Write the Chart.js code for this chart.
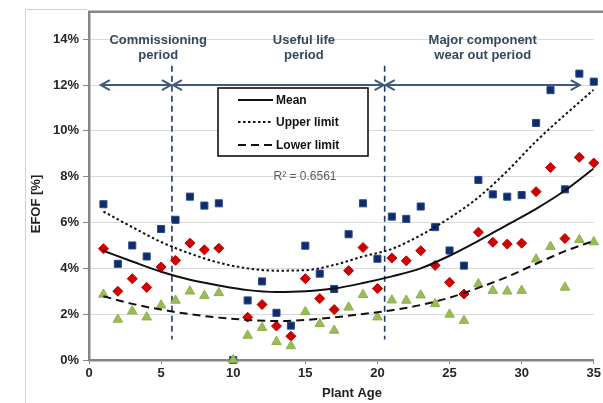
<!DOCTYPE html>
<html>
<head>
<meta charset="utf-8">
<script src="https://cdn.jsdelivr.net/npm/chart.js@4.4.1/dist/chart.umd.min.js"></script>
<style>
html, body { margin: 0; padding: 0; background: #fff; }
</style>
</head>
<body>
<canvas id="chart" width="603" height="403"></canvas>
<script>
// Plant age (years) and the three EFOF point series, in percent
const plantAge = [1, 2, 3, 4, 5, 6, 7, 8, 9, 10, 11, 12, 13, 14, 15, 16, 17, 18,
	19, 20, 21, 22, 23, 24, 25, 26, 27, 28, 29, 30, 31, 32, 33, 34, 35]
const efofSquares = [6.8, 4.2, 5.0, 4.52, 5.72, 6.12, 7.13, 6.74, 6.84, 0, 2.6, 3.43, 2.06, 1.5, 4.99, 3.77, 3.1, 5.49,
	6.84, 4.42, 6.26, 6.16, 6.7, 5.8, 4.78, 4.12, 7.86, 7.23, 7.13, 7.2, 10.35, 11.78, 7.45, 12.5, 12.15]
const efofDiamonds = [4.86, 3.0, 3.55, 3.17, 4.06, 4.35, 5.1, 4.81, 4.88, null, 1.87, 2.42, 1.48, 1.04, 3.55, 2.68, 2.2, 3.9,
	4.91, 3.12, 4.45, 4.33, 4.77, 4.13, 3.39, 2.88, 5.58, 5.14, 5.06, 5.1, 7.35, 8.4, 5.3, 8.85, 8.6]
const efofTriangles = [2.86, 1.77, 2.13, 1.87, 2.39, 2.6, 3.0, 2.81, 2.93, 0, 1.07, 1.41, 0.8, 0.61, 2.1, 1.58, 1.29, 2.3,
	2.85, 1.87, 2.61, 2.6, 2.83, 2.45, 1.99, 1.72, 3.32, 3.03, 3.0, 3.03, 4.4, 4.95, 3.17, 5.25, 5.15]

// fitted curves
const curveAge = [1, 3, 5, 7, 9, 11, 13, 15, 17, 19, 21, 23, 25, 27, 29, 31, 33, 35]
const meanCurve = [4.77, 4.3, 3.85, 3.5, 3.25, 3.05, 2.97, 3.0, 3.12, 3.36, 3.65, 4.0, 4.55, 5.2, 5.9, 6.6, 7.4, 8.36]
const upperCurve = [6.48, 5.8, 5.15, 4.65, 4.25, 4.0, 3.9, 3.92, 4.15, 4.52, 4.85, 5.45, 6.2, 7.1, 8.25, 9.55, 10.7, 11.8]
const lowerCurve = [2.78, 2.45, 2.2, 2.0, 1.85, 1.75, 1.7, 1.75, 1.86, 2.01, 2.17, 2.4, 2.72, 3.15, 3.63, 4.2, 4.75, 5.2]

const yTicks = [0, 2, 4, 6, 8, 10, 12, 14]
const xTicks = [0, 5, 10, 15, 20, 25, 30, 35]

// life periods
const periodBounds = [5.75, 20.5]
const arrowSpans = [[0.75, 5.75], [5.75, 20.5], [20.5, 34.1]]
const periodLabels = [
	{ at: 4.8, lines: ['Commissioning', 'period'] },
	{ at: 14.9, lines: ['Useful life', 'period'] },
	{ at: 27.3, lines: ['Major component', 'wear out period'] },
]
const rSquared = 'R² = 0.6561'

const FONT = "'Liberation Sans', Arial, sans-serif"
const AXIS_GREY = '#868686'

const pts = (xs, ys) => xs.map((x, i) => ({ x: x, y: ys[i] }))

const curveConfig = (label, values, dash) => ({
	type: 'line',
	label: label,
	data: pts(curveAge, values),
	borderColor: '#111',
	borderWidth: 2,
	borderDash: dash,
	pointRadius: 0,
	cubicInterpolationMode: 'monotone',
	fill: false,
	showLine: true,
})

const overlay = {
	id: 'overlay',
	beforeDatasetsDraw(chart) {
		const { ctx, scales: { x, y } } = chart
		ctx.save()
		// period boundaries
		ctx.strokeStyle = '#1F3864'
		ctx.lineWidth = 1.6
		ctx.setLineDash([6, 4])
		periodBounds.forEach(v => {
			const px = x.getPixelForValue(v)
			ctx.beginPath()
			ctx.moveTo(px, y.getPixelForValue(12.85))
			ctx.lineTo(px, y.getPixelForValue(0.9))
			ctx.stroke()
		})
		ctx.setLineDash([])
		// arrows
		const py = y.getPixelForValue(12)
		ctx.strokeStyle = '#3E5A7E'
		ctx.lineWidth = 2
		arrowSpans.forEach(([a, b]) => {
			const p1 = x.getPixelForValue(a) + 1
			const p2 = x.getPixelForValue(b) - 1
			ctx.beginPath()
			ctx.moveTo(p1, py)
			ctx.lineTo(p2, py)
			ctx.moveTo(p1 + 9, py - 5)
			ctx.lineTo(p1, py)
			ctx.lineTo(p1 + 9, py + 5)
			ctx.moveTo(p2 - 9, py - 5)
			ctx.lineTo(p2, py)
			ctx.lineTo(p2 - 9, py + 5)
			ctx.stroke()
		})
		// period labels
		ctx.fillStyle = '#34495E'
		ctx.font = 'bold 13px ' + FONT
		ctx.textAlign = 'center'
		ctx.textBaseline = 'middle'
		periodLabels.forEach(p => {
			const px = x.getPixelForValue(p.at)
			p.lines.forEach((t, i) => ctx.fillText(t, px, 40 + i * 15))
		})
		ctx.restore()
	},
	afterDatasetsDraw(chart) {
		const { ctx } = chart
		ctx.save()
		// legend box
		ctx.fillStyle = '#fff'
		ctx.fillRect(218, 88, 150, 68)
		ctx.strokeStyle = '#000'
		ctx.lineWidth = 1.5
		ctx.strokeRect(218, 88, 150, 68)
		const rows = [100, 122, 145]
		chart.data.datasets.slice(0, 3).forEach((ds, i) => {
			ctx.strokeStyle = '#111'
			ctx.lineWidth = 2
			ctx.setLineDash(ds.borderDash || [])
			ctx.beginPath()
			ctx.moveTo(238, rows[i])
			ctx.lineTo(273, rows[i])
			ctx.stroke()
			ctx.setLineDash([])
			ctx.fillStyle = '#111'
			ctx.font = 'bold 12px ' + FONT
			ctx.textAlign = 'left'
			ctx.textBaseline = 'middle'
			ctx.fillText(ds.label, 276, rows[i] + 1)
		})
		// R squared
		ctx.fillStyle = '#5a5a6a'
		ctx.font = '12px ' + FONT
		ctx.textAlign = 'center'
		ctx.fillText(rSquared, 305, 177)
		// axis titles
		ctx.fillStyle = '#222'
		ctx.font = 'bold 13px ' + FONT
		ctx.fillText('Plant Age', 352, 393)
		ctx.translate(36, 204)
		ctx.rotate(-Math.PI / 2)
		ctx.fillText('EFOF [%]', 0, 0)
		ctx.restore()
	},
	afterDraw(chart) {
		const { ctx, chartArea } = chart
		ctx.save()
		// plot frame top
		ctx.strokeStyle = AXIS_GREY
		ctx.lineWidth = 2.5
		ctx.beginPath()
		ctx.moveTo(chartArea.left - 1, chartArea.top)
		ctx.lineTo(603, chartArea.top)
		ctx.stroke()
		// outer chart border
		ctx.strokeStyle = '#d0d0d0'
		ctx.lineWidth = 1
		ctx.beginPath()
		ctx.moveTo(25.5, 403)
		ctx.lineTo(25.5, 9.5)
		ctx.lineTo(chartArea.left - 2, 9.5)
		ctx.stroke()
		ctx.restore()
	},
}

new Chart(document.getElementById('chart'), {
	type: 'scatter',
	data: {
		datasets: [
			curveConfig('Mean', meanCurve, []),
			curveConfig('Upper limit', upperCurve, [2.5, 2.5]),
			curveConfig('Lower limit', lowerCurve, [8, 5]),
			{
				label: 'Low',
				data: pts(plantAge, efofTriangles),
				pointStyle: 'triangle',
				pointRadius: 5.5,
				backgroundColor: '#9BBB59',
				borderColor: '#8DB04A',
				borderWidth: 1,
				clip: false,
			},
			{
				label: 'Mid',
				data: pts(plantAge, efofDiamonds),
				pointStyle: 'rectRot',
				pointRadius: 5,
				backgroundColor: '#D10000',
				borderColor: '#C00000',
				borderWidth: 1,
				clip: false,
			},
			{
				label: 'High',
				data: pts(plantAge, efofSquares),
				pointStyle: 'rect',
				pointRadius: 5,
				backgroundColor: '#0E2B6B',
				borderColor: '#2A4A8A',
				borderWidth: 1,
				clip: false,
			},
		],
	},
	options: {
		responsive: false,
		animation: false,
		layout: { padding: { top: 9, right: 3, bottom: 0, left: 0 } },
		plugins: {
			legend: { display: false },
			tooltip: { enabled: false },
		},
		scales: {
			x: {
				type: 'linear',
				min: 0,
				max: 35,
				afterFit: s => { s.height = 43 },
				afterBuildTicks: s => { s.ticks = xTicks.map(v => ({ value: v })) },
				ticks: {
					font: { family: FONT, size: 13, weight: 'bold' },
					color: '#262626',
					padding: 2,
					maxRotation: 0,
				},
				grid: { drawOnChartArea: false, tickLength: 4, color: AXIS_GREY },
				border: { color: AXIS_GREY, width: 2.5 },
			},
			y: {
				min: 0,
				max: 15.2,
				afterFit: s => { s.width = 89 },
				afterBuildTicks: s => { s.ticks = yTicks.map(v => ({ value: v })) },
				ticks: {
					font: { family: FONT, size: 13, weight: 'bold' },
					color: '#262626',
					padding: 4,
					callback: v => v + '%',
				},
				grid: { color: '#d9d9d9', tickColor: AXIS_GREY, tickLength: 6 },
				border: { color: AXIS_GREY, width: 2.5 },
			},
		},
	},
	plugins: [overlay],
})
</script>
</body>
</html>
